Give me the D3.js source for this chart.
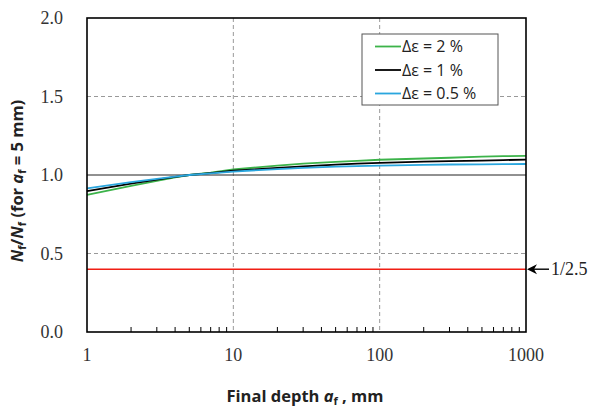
<!DOCTYPE html>
<html>
<head>
<meta charset="utf-8">
<script src="https://cdn.jsdelivr.net/npm/d3@7/dist/d3.min.js"></script>
<style>
  html, body { margin: 0; padding: 0; background: #fff; }
  svg { display: block; }
</style>
</head>
<body>
<svg id="chart" width="597" height="412"></svg>
<script>
// Final crack depth a_f (mm)
const depths = [1, 2, 3, 4, 5, 7, 10, 20, 30, 50, 70, 100, 200, 300, 500, 700, 1000];
// Life ratio N_f / N_f(a_f = 5 mm) for each strain range
const strain2 = [0.873, 0.93, 0.962, 0.985, 1.0, 1.015, 1.035, 1.06, 1.072, 1.083, 1.09, 1.097, 1.105, 1.11, 1.117, 1.12, 1.122];
const strain1 = [0.898, 0.945, 0.97, 0.988, 1.0, 1.012, 1.027, 1.045, 1.055, 1.066, 1.072, 1.077, 1.085, 1.088, 1.092, 1.095, 1.098];
const strain05 = [0.915, 0.955, 0.975, 0.99, 1.0, 1.01, 1.022, 1.038, 1.045, 1.053, 1.057, 1.06, 1.065, 1.067, 1.068, 1.069, 1.07];
const seriesNames = ["Δε = 2 %", "Δε = 1 %", "Δε = 0.5 %"];
const seriesColors = ["#3cb34a", "#000000", "#2aa6de"];
const xTicks = [1, 10, 100, 1000];
const yTicks = [0, 0.5, 1.0, 1.5, 2.0];
const refRatio = 1 / 2.5;
const refLabel = "1/2.5";

const svg = d3.select("#chart");
const L = 87, R = 526, T = 18, B = 332;

const x = d3.scaleLog().domain([1, 1000]).range([L, R]);
const y = d3.scaleLinear().domain([0, 2]).range([B, T]);

// Grid lines
const g = svg.append("g");
[10, 100].forEach(v => {
  g.append("line").attr("x1", x(v)).attr("x2", x(v)).attr("y1", T).attr("y2", B)
    .attr("stroke", "#999").attr("stroke-width", 1).attr("stroke-dasharray", "4,3");
});
[0.5, 1.5].forEach(v => {
  g.append("line").attr("x1", L).attr("x2", R).attr("y1", y(v)).attr("y2", y(v))
    .attr("stroke", "#999").attr("stroke-width", 1).attr("stroke-dasharray", "4,3");
});
g.append("line").attr("x1", L).attr("x2", R).attr("y1", y(1)).attr("y2", y(1))
  .attr("stroke", "#222").attr("stroke-width", 1);

// Reference ratio line
svg.append("line").attr("x1", L).attr("x2", R).attr("y1", y(refRatio)).attr("y2", y(refRatio))
  .attr("stroke", "#f01e14").attr("stroke-width", 1.6);

// Data series
const allSeries = [strain2, strain1, strain05];
const line = d3.line().x((d, i) => x(depths[i])).y(d => y(d));
allSeries.forEach((s, k) => {
  svg.append("path").datum(s).attr("d", line)
    .attr("fill", "none").attr("stroke", seriesColors[k]).attr("stroke-width", 1.8);
});

// Plot frame
svg.append("rect").attr("x", L).attr("y", T).attr("width", R - L).attr("height", B - T)
  .attr("fill", "none").attr("stroke", "#000").attr("stroke-width", 1.6);

// Minor ticks along the bottom (pointing inward)
const minor = [];
for (let d = 1; d < 1000; d *= 10) for (let m = 2; m <= 9; m++) minor.push(d * m);
svg.append("g").selectAll("line").data(minor).join("line")
  .attr("x1", d => x(d)).attr("x2", d => x(d)).attr("y1", B).attr("y2", B - 5)
  .attr("stroke", "#000").attr("stroke-width", 1);

// Tick labels
const serif = "'Liberation Serif', 'DejaVu Serif', serif";
svg.append("g").selectAll("text").data(xTicks).join("text")
  .attr("x", d => x(d)).attr("y", 361).attr("text-anchor", "middle")
  .attr("font-family", serif).attr("font-size", 18).attr("fill", "#333")
  .text(d => d);
svg.append("g").selectAll("text").data(yTicks).join("text")
  .attr("x", 63).attr("y", d => y(d) + 6).attr("text-anchor", "end")
  .attr("font-family", serif).attr("font-size", 18).attr("fill", "#333")
  .text(d => d.toFixed(1));

// Arrow to the reference line with its label
const ay = y(refRatio);
svg.append("line").attr("x1", R + 3).attr("x2", 549).attr("y1", ay).attr("y2", ay)
  .attr("stroke", "#000").attr("stroke-width", 1.4);
svg.append("path")
  .attr("d", `M${R + 1},${ay} L${R + 11},${ay - 5} L${R + 8},${ay} L${R + 11},${ay + 5} Z`)
  .attr("fill", "#000");
svg.append("text").attr("x", 551).attr("y", ay + 6)
  .attr("font-family", serif).attr("font-size", 18).attr("fill", "#222").text(refLabel);

// Axis titles
const sans = "'Open Sans', 'Noto Sans', sans-serif";
const xt = svg.append("text").attr("x", 305).attr("y", 402).attr("text-anchor", "middle")
  .attr("font-family", sans).attr("font-size", 16.5).attr("font-weight", "bold").attr("fill", "#222");
xt.append("tspan").text("Final depth ");
xt.append("tspan").attr("font-style", "italic").text("a");
xt.append("tspan").attr("font-size", 11).attr("dy", 3).text("f");
xt.append("tspan").attr("dy", -3).text(" , mm");

const yt = svg.append("text").attr("transform", "translate(23,181) rotate(-90)")
  .attr("text-anchor", "middle")
  .attr("font-family", sans).attr("font-size", 16.5).attr("font-weight", "bold").attr("fill", "#222");
yt.append("tspan").attr("font-style", "italic").text("N");
yt.append("tspan").attr("font-size", 11).attr("dy", 3).text("f");
yt.append("tspan").attr("dy", -3).text("/");
yt.append("tspan").attr("font-style", "italic").text("N");
yt.append("tspan").attr("font-size", 11).attr("dy", 3).text("f");
yt.append("tspan").attr("dy", -3).text(" (for ");
yt.append("tspan").attr("font-style", "italic").text("a");
yt.append("tspan").attr("font-size", 11).attr("dy", 3).text("f");
yt.append("tspan").attr("dy", -3).text(" = 5 mm)");

// Legend
const lg = svg.append("g");
lg.append("rect").attr("x", 362).attr("y", 34).attr("width", 136).attr("height", 71)
  .attr("fill", "#fff").attr("stroke", "#555").attr("stroke-width", 1);
seriesNames.forEach((name, k) => {
  const ly = 46.5 + k * 23.5;
  lg.append("line").attr("x1", 375).attr("x2", 401).attr("y1", ly).attr("y2", ly)
    .attr("stroke", seriesColors[k]).attr("stroke-width", 1.8);
  lg.append("text").attr("x", 402).attr("y", ly + 5.5).attr("font-family", sans)
    .attr("font-size", 16).attr("fill", "#222").text(name);
});
</script>
</body>
</html>
